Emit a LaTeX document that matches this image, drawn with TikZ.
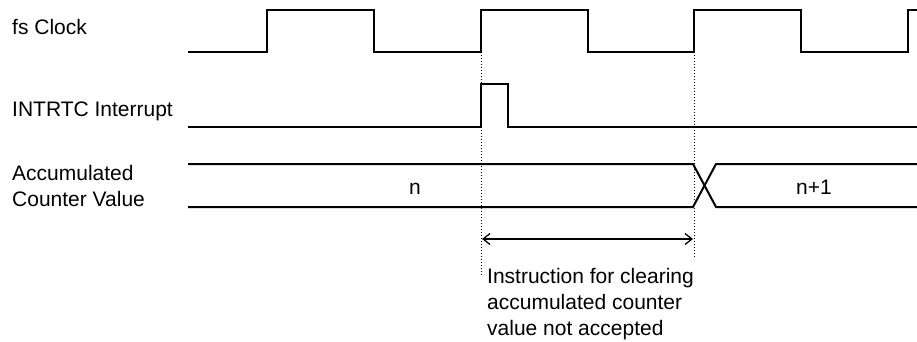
\documentclass[tikz,border=0pt]{standalone}
\usepackage{fontspec}
\setmainfont{Liberation Sans}
\usetikzlibrary{arrows.meta}
\begin{document}
\begin{tikzpicture}[x=1pt,y=-1pt,
  sig/.style={line width=2pt,line join=miter},
  guide/.style={line width=1pt,dotted},
  lbl/.style={inner sep=0pt,anchor=base west,font=\fontsize{21}{26}\selectfont},
  dim/.style={line width=1.3pt,{Straight Barb[length=7pt,width=11pt]}-{Straight Barb[length=7pt,width=11pt]}}]
\useasboundingbox (0,0) rectangle (917,342);
% labels
\node[lbl] (lclk) at (12,35) {fs Clock};
\node[lbl] (lint) at (12,117) {INTRTC Interrupt};
\node[lbl] (lacc) at (12,180) {Accumulated};
\node[lbl] (lcnt) at (12,206) {Counter Value};
% clock
\draw[sig] (188,52) -- (267,52) -- (267,10) -- (374,10) -- (374,52) -- (481,52) -- (481,10) -- (588,10) -- (588,52) -- (694,52) -- (694,10) -- (801,10) -- (801,52) -- (908,52) -- (908,10) -- (918,10);
% interrupt
\draw[sig] (188,127) -- (481,127) -- (481,84) -- (508,84) -- (508,127) -- (918,127);
% counter
\draw[sig] (188,164) -- (693,164) -- (716,207) -- (918,207);
\draw[sig] (188,207) -- (693,207) -- (716,164) -- (918,164);
\node[lbl] (vn) at (409,194) {n};
\node[lbl] (vn1) at (796,194) {n+1};
% guides
\coordinate (g1t) at (481,52);
\coordinate (g1b) at (481,276);
\coordinate (g2t) at (694,52);
\coordinate (g2b) at (694,258);
\draw[guide] (g1t) -- (g1b);
\draw[guide] (g2t) -- (g2b);
\coordinate (a1) at (482,239);
\coordinate (a2) at (693,239);
\draw[dim] (a1) -- (a2);
\node[lbl,align=left,anchor=north west] (note) at (487,268) {Instruction for clearing\\accumulated counter\\value not accepted};
\end{tikzpicture}
\end{document}
